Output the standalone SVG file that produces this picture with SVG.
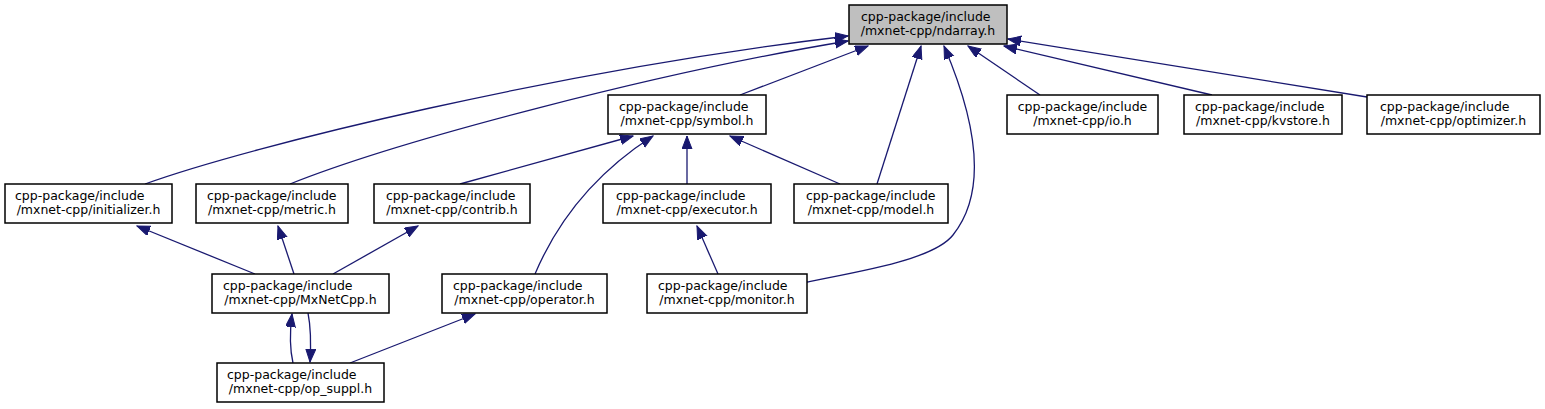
<svg xmlns="http://www.w3.org/2000/svg" width="1545" height="409" viewBox="0 0 1545 409">
<style>
.box{fill:#ffffff;stroke:#000000;stroke-width:1.5}
.hl{fill:#bfbfbf}
text{font-family:"DejaVu Sans","Liberation Sans",sans-serif;font-size:12.5px;fill:#000000}
.m{text-anchor:middle}
.e{fill:none;stroke:#191970;stroke-width:1.3}
</style>
<defs>
<marker id="ah" markerUnits="userSpaceOnUse" markerWidth="14" markerHeight="12" refX="13" refY="5" orient="auto">
<path d="M0,0 L13,5 L0,10 Z" fill="#191970" stroke="#191970" stroke-width="1"/>
</marker>
</defs>
<g id="connectors">
<path class="e" marker-end="url(#ah)" d="M145,184 C250,146 560,70 848,36"/>
<path class="e" marker-end="url(#ah)" d="M290,184 C400,140 660,72 848,41"/>
<path class="e" marker-end="url(#ah)" d="M740,95 L868,46"/>
<path class="e" marker-end="url(#ah)" d="M877,184 L921,46"/>
<path class="e" marker-end="url(#ah)" d="M807,282 C870,270 935,258 953,235 C985,195 980,130 944,46"/>
<path class="e" marker-end="url(#ah)" d="M1040,95 L968,46"/>
<path class="e" marker-end="url(#ah)" d="M1212,95 L1004,46"/>
<path class="e" marker-end="url(#ah)" d="M1367,97 L1008,39"/>
<path class="e" marker-end="url(#ah)" d="M460,184 L633,136"/>
<path class="e" marker-end="url(#ah)" d="M535,274 C560,215 600,170 653,136"/>
<path class="e" marker-end="url(#ah)" d="M687,184 L687,136"/>
<path class="e" marker-end="url(#ah)" d="M840,184 L730,136"/>
<path class="e" marker-end="url(#ah)" d="M255,274 L137,226"/>
<path class="e" marker-end="url(#ah)" d="M294,274 L278,226"/>
<path class="e" marker-end="url(#ah)" d="M333,274 L418,226"/>
<path class="e" marker-end="url(#ah)" d="M718,274 L697,226"/>
<path class="e" marker-end="url(#ah)" d="M293,363 C290,350 290,330 292,314"/>
<path class="e" marker-end="url(#ah)" d="M308,313 C311,328 311,345 310,362"/>
<path class="e" marker-end="url(#ah)" d="M350,363 L475,314"/>
</g>
<g id="node-ndarray"><rect class="box hl" x="849" y="5" width="158" height="39"/><text x="861" y="21">cpp-package/include</text><text class="m" x="928" y="35">/mxnet-cpp/ndarray.h</text></g>
<g id="node-symbol"><rect class="box" x="608" y="95" width="158" height="39"/><text x="619" y="111">cpp-package/include</text><text class="m" x="687" y="125">/mxnet-cpp/symbol.h</text></g>
<g id="node-io"><rect class="box" x="1007" y="95" width="151" height="39"/><text class="m" x="1082.5" y="111">cpp-package/include</text><text class="m" x="1082.5" y="125">/mxnet-cpp/io.h</text></g>
<g id="node-kvstore"><rect class="box" x="1184" y="95" width="158" height="39"/><text x="1195" y="111">cpp-package/include</text><text class="m" x="1263" y="125">/mxnet-cpp/kvstore.h</text></g>
<g id="node-optimizer"><rect class="box" x="1367" y="95" width="173" height="39"/><text x="1380" y="111">cpp-package/include</text><text class="m" x="1453.5" y="125">/mxnet-cpp/optimizer.h</text></g>
<g id="node-initializer"><rect class="box" x="5" y="184" width="167" height="39"/><text x="15" y="200">cpp-package/include</text><text class="m" x="88.5" y="214">/mxnet-cpp/initializer.h</text></g>
<g id="node-metric"><rect class="box" x="196" y="184" width="152" height="39"/><text x="207" y="200">cpp-package/include</text><text class="m" x="272" y="214">/mxnet-cpp/metric.h</text></g>
<g id="node-contrib"><rect class="box" x="374" y="184" width="156" height="39"/><text x="386" y="200">cpp-package/include</text><text class="m" x="452" y="214">/mxnet-cpp/contrib.h</text></g>
<g id="node-executor"><rect class="box" x="603" y="184" width="168" height="39"/><text x="616" y="200">cpp-package/include</text><text class="m" x="687" y="214">/mxnet-cpp/executor.h</text></g>
<g id="node-model"><rect class="box" x="794" y="184" width="154" height="39"/><text x="806" y="200">cpp-package/include</text><text class="m" x="871" y="214">/mxnet-cpp/model.h</text></g>
<g id="node-MxNetCpp"><rect class="box" x="212" y="274" width="177" height="39"/><text x="223" y="290">cpp-package/include</text><text class="m" x="300.5" y="304">/mxnet-cpp/MxNetCpp.h</text></g>
<g id="node-operator"><rect class="box" x="442" y="274" width="165" height="39"/><text x="453" y="290">cpp-package/include</text><text class="m" x="524.5" y="304">/mxnet-cpp/operator.h</text></g>
<g id="node-monitor"><rect class="box" x="647" y="274" width="160" height="39"/><text x="658" y="290">cpp-package/include</text><text class="m" x="727" y="304">/mxnet-cpp/monitor.h</text></g>
<g id="node-op_suppl"><rect class="box" x="217" y="363" width="167" height="39"/><text x="227" y="379">cpp-package/include</text><text class="m" x="300.5" y="393">/mxnet-cpp/op_suppl.h</text></g>
</svg>
